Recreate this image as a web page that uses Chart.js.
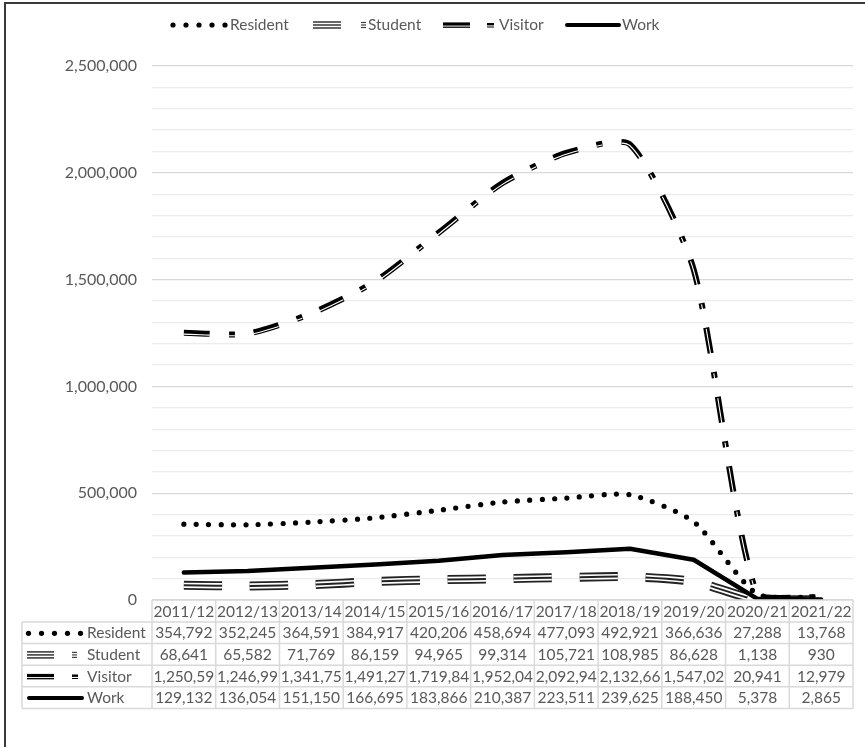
<!DOCTYPE html>
<html>
<head>
<meta charset="utf-8">
<script src="https://cdn.jsdelivr.net/npm/chart.js@4.4.0/dist/chart.umd.min.js"></script>
<style>
  html, body { margin: 0; padding: 0; background: #fff; }
  #wrap { width: 865px; height: 747px; position: relative; }
</style>
</head>
<body>
<div id="wrap"><canvas id="chart" width="865" height="747"></canvas></div>
<script>
const years = ['2011/12', '2012/13', '2013/14', '2014/15', '2015/16', '2016/17', '2017/18', '2018/19', '2019/20', '2020/21', '2021/22'];
const resident = [354792, 352245, 364591, 384917, 420206, 458694, 477093, 492921, 366636, 27288, 13768];
const student = [68641, 65582, 71769, 86159, 94965, 99314, 105721, 108985, 86628, 1138, 930];
// last digit of visitor values is cut off in the table, estimated
const visitor = [1250595, 1246995, 1341755, 1491275, 1719845, 1952045, 2092945, 2132665, 1547025, 20941, 12979];
const work = [129132, 136054, 151150, 166695, 183866, 210387, 223511, 239625, 188450, 5378, 2865];
const seriesNames = ['Resident', 'Student', 'Visitor', 'Work'];
const majorStep = 500000;
const minorStep = 100000;
const yMax = 2500000;

const textGray = '#595959';
const fmt = v => v.toLocaleString('en-US');

// small legend keys, shared by top legend and the table
function drawLineKey(ctx, name, x, y, len) {
    ctx.save();
    ctx.strokeStyle = '#000';
    if (name === 'Resident') {
        ctx.fillStyle = '#000';
        for (let i = 0; i < 5; i++) {
            ctx.beginPath();
            ctx.arc(x + i * 13, y, 2.6, 0, Math.PI * 2);
            ctx.fill();
        }
    } else if (name === 'Student') {
        ctx.strokeStyle = '#404040';
        ctx.lineWidth = 1.6;
        [-3, 0, 3].forEach(d => {
            ctx.beginPath(); ctx.moveTo(x, y + d); ctx.lineTo(x + len, y + d); ctx.stroke();
        });
    } else if (name === 'Visitor') {
        ctx.lineWidth = 3.2;
        ctx.beginPath(); ctx.moveTo(x, y - 1); ctx.lineTo(x + len, y - 1); ctx.stroke();
        ctx.lineWidth = 1.3;
        ctx.beginPath(); ctx.moveTo(x, y + 2.2); ctx.lineTo(x + len, y + 2.2); ctx.stroke();
    } else {
        ctx.lineWidth = 4;
        ctx.lineCap = 'round';
        ctx.beginPath(); ctx.moveTo(x, y); ctx.lineTo(x + len, y); ctx.stroke();
    }
    ctx.restore();
}

function drawSmallKey(ctx, name, x, y, w) {
    ctx.save();
    ctx.strokeStyle = name === 'Student' ? '#404040' : '#000';
    if (name === 'Student') {
        ctx.lineWidth = 1.2;
        [-2.5, 0, 2.5].forEach(d => {
            ctx.beginPath(); ctx.moveTo(x, y + d); ctx.lineTo(x + w, y + d); ctx.stroke();
        });
    } else {
        ctx.lineWidth = 2.4;
        ctx.beginPath(); ctx.moveTo(x, y - 0.8); ctx.lineTo(x + w, y - 0.8); ctx.stroke();
        ctx.lineWidth = 1;
        ctx.beginPath(); ctx.moveTo(x, y + 2); ctx.lineTo(x + w, y + 2); ctx.stroke();
    }
    ctx.restore();
}

const framePlugin = {
    id: 'frame',
    beforeDraw(chart) {
        const ctx = chart.ctx;
        ctx.save();
        ctx.fillStyle = '#fff';
        ctx.fillRect(0, 0, chart.width, chart.height);
        ctx.strokeStyle = '#3a3a3a';
        ctx.lineWidth = 2;
        ctx.beginPath();
        ctx.moveTo(5, chart.height);
        ctx.lineTo(5, 3);
        ctx.lineTo(chart.width, 3);
        ctx.stroke();
        ctx.restore();
    }
};

// top legend, drawn by hand to get the Excel look
const legendPlugin = {
    id: 'topLegend',
    afterDraw(chart) {
        const ctx = chart.ctx;
        const y = 25;
        ctx.save();
        ctx.font = '15.5px Lato';
        ctx.fillStyle = textGray;
        ctx.textBaseline = 'middle';
        ctx.textAlign = 'left';
        drawLineKey(ctx, 'Resident', 173, y, 52);
        ctx.fillText('Resident', 230, y);
        drawLineKey(ctx, 'Student', 313, y, 28);
        drawSmallKey(ctx, 'Student', 361, y, 5);
        ctx.fillText('Student', 368, y);
        drawLineKey(ctx, 'Visitor', 443, y, 27);
        drawSmallKey(ctx, 'Visitor', 487, y, 7);
        ctx.fillText('Visitor', 499, y);
        drawLineKey(ctx, 'Work', 567, y, 52);
        ctx.fillText('Work', 622, y);
        ctx.restore();
    }
};

// data table under the plot, columns follow the x scale
const tablePlugin = {
    id: 'dataTable',
    afterDraw(chart) {
        const { ctx, chartArea, scales: { x } } = chart;
        const n = years.length;
        const colW = (chartArea.right - chartArea.left) / n;
        const top = chartArea.bottom;
        const headH = 22;
        const rowH = 21.6;
        const leftX = 22;
        const rows = [resident, student, visitor, work];
        const bottom = top + headH + rowH * rows.length;

        ctx.save();
        ctx.strokeStyle = '#d9d9d9';
        ctx.lineWidth = 1.5;
        ctx.beginPath();
        ctx.moveTo(chartArea.left, top); ctx.lineTo(chartArea.right, top);
        for (let r = 0; r <= rows.length; r++) {
            const yy = top + headH + r * rowH;
            ctx.moveTo(leftX, yy); ctx.lineTo(chartArea.right, yy);
        }
        ctx.moveTo(leftX, top + headH); ctx.lineTo(leftX, bottom);
        for (let c = 0; c <= n; c++) {
            const xx = chartArea.left + c * colW;
            ctx.moveTo(xx, top); ctx.lineTo(xx, bottom);
        }
        ctx.stroke();

        ctx.font = '15.5px Lato';
        ctx.fillStyle = textGray;
        ctx.textBaseline = 'middle';
        ctx.textAlign = 'center';
        years.forEach((yr, i) => {
            ctx.fillText(yr, x.getPixelForValue(i), top + headH / 2 + 0.5);
        });

        rows.forEach((vals, r) => {
            const cy = top + headH + rowH * r + rowH / 2 + 0.5;
            ctx.textAlign = 'center';
            vals.forEach((v, i) => {
                let s = fmt(v);
                while (s.length > 1 && ctx.measureText(s).width > colW - 1) s = s.slice(0, -1);
                ctx.fillText(s, x.getPixelForValue(i), cy);
            });
            const name = seriesNames[r];
            if (name === 'Resident') {
                drawLineKey(ctx, name, 28.5, cy, 52);
            } else if (name === 'Work') {
                drawLineKey(ctx, name, 29, cy, 53);
            } else {
                drawLineKey(ctx, name, 27, cy, 27);
                drawSmallKey(ctx, name, 72, cy, name === 'Student' ? 5 : 6);
            }
            ctx.textAlign = 'left';
            ctx.fillText(name, 87, cy);
        });
        ctx.restore();
    }
};

// shifts a dataset a little, used for the thin white stripe in the double line
const shiftPlugin = {
    id: 'shift',
    beforeDatasetDraw(chart, args) {
        const s = chart.data.datasets[args.index].shiftY;
        if (s) { chart.ctx.save(); chart.ctx.translate(0, s); }
    },
    afterDatasetDraw(chart, args) {
        if (chart.data.datasets[args.index].shiftY) chart.ctx.restore();
    }
};

const base = { pointRadius: 0, pointHoverRadius: 0, fill: false };
const smooth = { tension: 0.22 };

new Chart(document.getElementById('chart').getContext('2d'), {
    type: 'line',
    data: {
        labels: years,
        datasets: [
            Object.assign({}, base, { label: 'Work', data: work, borderColor: '#000', borderWidth: 4.5,
                borderJoinStyle: 'round', borderCapStyle: 'round', tension: 0, order: 1 }),
            Object.assign({}, base, smooth, { label: 'Resident', data: resident, borderColor: '#000', borderWidth: 5.2,
                borderDash: [0, 12.4], borderCapStyle: 'round', order: 2 }),
            Object.assign({}, base, smooth, { label: 'Visitor', data: visitor, borderColor: '#fff', borderWidth: 1.1,
                borderDash: [26, 19, 6, 19], borderCapStyle: 'butt', shiftY: 1.3, order: 8 }),
            Object.assign({}, base, smooth, { label: 'Visitor', data: visitor, borderColor: '#000', borderWidth: 6,
                borderDash: [26, 19, 6, 19], borderCapStyle: 'butt', order: 9 }),
            Object.assign({}, base, smooth, { label: 'Student', data: student, borderColor: '#222', borderWidth: 2,
                borderDash: [38, 28], borderCapStyle: 'butt', order: 10 }),
            Object.assign({}, base, smooth, { label: 'Student', data: student, borderColor: '#fff', borderWidth: 5.4,
                borderDash: [38, 28], borderCapStyle: 'butt', order: 11 }),
            Object.assign({}, base, smooth, { label: 'Student', data: student, borderColor: '#222', borderWidth: 9,
                borderDash: [38, 28], borderCapStyle: 'butt', order: 12 })
        ]
    },
    options: {
        responsive: false,
        animation: false,
        devicePixelRatio: 1,
        layout: { padding: { top: 66, right: 12, bottom: 147, left: 0 } },
        plugins: {
            legend: { display: false },
            tooltip: { enabled: false }
        },
        scales: {
            x: {
                type: 'category',
                display: false,
                offset: true
            },
            y: {
                min: 0,
                max: yMax,
                afterFit: s => { s.width = 152; },
                border: { display: false },
                grid: {
                    drawTicks: false,
                    lineWidth: 1.2,
                    color: c => (c.tick && c.tick.value % majorStep === 0) ? '#d9d9d9' : '#ececec'
                },
                ticks: {
                    stepSize: minorStep,
                    autoSkip: false,
                    padding: 15,
                    color: textGray,
                    font: { family: 'Lato', size: 16 },
                    callback: v => (v % majorStep === 0 ? fmt(v) : '')
                }
            }
        }
    },
    plugins: [framePlugin, shiftPlugin, tablePlugin, legendPlugin]
});
</script>
</body>
</html>
